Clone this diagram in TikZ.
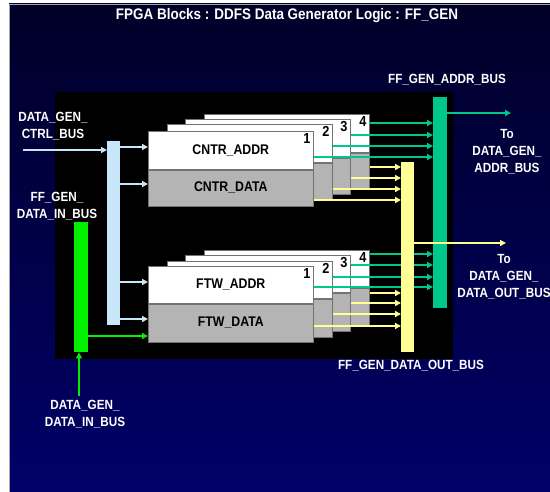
\documentclass[tikz,border=0pt]{standalone}
\usepackage{fontspec}
\setmainfont{Liberation Sans}[FakeStretch=0.88]
\usetikzlibrary{arrows.meta}
\definecolor{bgtop}{RGB}{0,0,40}
\definecolor{bgbot}{RGB}{0,0,105}
\definecolor{ltblue}{RGB}{200,230,250}
\definecolor{busgreen}{RGB}{0,200,140}
\definecolor{brgreen}{RGB}{0,240,0}
\definecolor{ylw}{RGB}{255,255,150}
\definecolor{boxgray}{RGB}{180,180,180}
\begin{document}
\begin{tikzpicture}[x=1pt,y=-1pt,
  lbl/.style={text=white,font=\bfseries\fontsize{13.3}{17}\selectfont,align=center,inner sep=0pt},
  ttl/.style={text=white,font=\bfseries\fontsize{15.3}{17}\selectfont,inner sep=0pt},
  boxw/.style={draw=black!55,line width=0.6pt,fill=white,anchor=north west,minimum width=165pt,minimum height=38pt,inner sep=0pt,font=\bfseries\fontsize{14}{16}\selectfont},
  boxg/.style={boxw,fill=boxgray,minimum height=36pt},
  num/.style={anchor=north east,inner sep=0pt,font=\bfseries\fontsize{14.5}{14.5}\selectfont},
  bar/.style={anchor=north west,inner sep=0pt,minimum width=13pt},
  arr/.style={line width=1.4pt,-{Triangle[length=6pt,width=6pt]}},
  garr/.style={arr,draw=busgreen},
  yarr/.style={arr,draw=ylw},
  barr/.style={arr,draw=ltblue},
  grarr/.style={arr,draw=brgreen}
]
\useasboundingbox (0,0) rectangle (550,492);
\fill[white] (0,0) rectangle (550,492);
\shade[top color=bgtop,bottom color=bgbot] (9,4) rectangle (550,492);
\draw[gray!70,line width=0.8pt] (9,492) -- (9,4) -- (550,4);
\fill[black] (55,92) rectangle (453,359);

% title and labels
\node[ttl] (title) at (287,16) {FPGA Blocks : DDFS Data Generator Logic : FF\_GEN};
\node[lbl] (lctrl) at (53,126.5) {DATA\_GEN\_\\CTRL\_BUS};
\node[lbl] (lffin) at (57,206) {FF\_GEN\_\\DATA\_IN\_BUS};
\node[lbl] (ldin) at (85,414.5) {DATA\_GEN\_\\DATA\_IN\_BUS};
\node[lbl] (laddrbus) at (447,80) {FF\_GEN\_ADDR\_BUS};
\node[lbl] (ltoaddr) at (507,152) {To\\DATA\_GEN\_\\ADDR\_BUS};
\node[lbl] (ltodata) at (504,277) {To\\DATA\_GEN\_\\DATA\_OUT\_BUS};
\node[lbl] (ldatabus) at (411,366) {FF\_GEN\_DATA\_OUT\_BUS};

% CNTR stack
\foreach \i/\x/\y in {4/204/114,3/185/119,2/167/124} {
  \node[boxw] (ca\i) at (\x,\y) {};
  \node[boxg] (cd\i) at (ca\i.south west) {};
  \node[num] (cn\i) at ([xshift=-3pt,yshift=-2pt]ca\i.north east) {\i};
}
\node[boxw] (ca1) at (148,131) {CNTR\_ADDR};
\node[boxg] (cd1) at (ca1.south west) {CNTR\_DATA};
\node[num] (cn1) at ([xshift=-3pt,yshift=-2pt]ca1.north east) {1};

% FTW stack
\foreach \i/\x/\y in {4/204/250,3/185/255,2/167/261} {
  \node[boxw,minimum height=37pt] (fa\i) at (\x,\y) {};
  \node[boxg,minimum height=38pt] (fd\i) at (fa\i.south west) {};
  \node[num] (fn\i) at ([xshift=-3pt,yshift=-2pt]fa\i.north east) {\i};
}
\node[boxw,minimum height=37pt] (fa1) at (148,266) {FTW\_ADDR};
\node[boxg,minimum height=38pt] (fd1) at (fa1.south west) {FTW\_DATA};
\node[num] (fn1) at ([xshift=-3pt,yshift=-2pt]fa1.north east) {1};

% input buses
\node[bar,fill=ltblue,minimum height=184pt] (lbus) at (107,141) {};
\node[bar,fill=brgreen,minimum width=14pt,minimum height=130pt] (ginbus) at (74,222) {};

% green address bus and lines
\node[bar,fill=busgreen,minimum width=14pt,minimum height=211pt] (gbus) at (433,97) {};
\foreach \i/\y in {1/157,2/146,3/135,4/123}
  \draw[garr] (ca\i.east |- 0,\y) -- (gbus.west |- 0,\y);
\foreach \i/\y in {1/287,2/277,3/265,4/254}
  \draw[garr] (fa\i.east |- 0,\y) -- (gbus.west |- 0,\y);

% yellow data bus and lines
\node[bar,fill=ylw,minimum height=190pt] (ybus) at (401,162) {};
\foreach \i/\y in {1/200,2/189,3/178,4/167}
  \draw[yarr] (cd\i.east |- 0,\y) -- (ybus.west |- 0,\y);
\foreach \i/\y in {1/326,2/314,3/303,4/293}
  \draw[yarr] (fd\i.east |- 0,\y) -- (ybus.west |- 0,\y);

% outputs
\coordinate (gout) at (511,113);
\draw[garr] (gbus.east |- gout) -- (gout);
\coordinate (yout) at (506,243);
\draw[yarr] (ybus.east |- yout) -- (yout);

% inputs
\coordinate (cin) at (23,150);
\draw[barr] (cin) -- (lbus.west |- cin);
\draw[barr] (lbus.east |- 0,147) -- (ca1.west |- 0,147);
\draw[barr] (lbus.east |- 0,184) -- (cd1.west |- 0,184);
\draw[barr] (lbus.east |- 0,282) -- (fa1.west |- 0,282);
\draw[barr] (lbus.east |- 0,319) -- (fd1.west |- 0,319);
\draw[grarr] (ginbus.east |- 0,336) -- (fd1.west |- 0,336);
\coordinate (din) at (79,396);
\draw[grarr] (din) -- (din |- ginbus.south);
\end{tikzpicture}
\end{document}
